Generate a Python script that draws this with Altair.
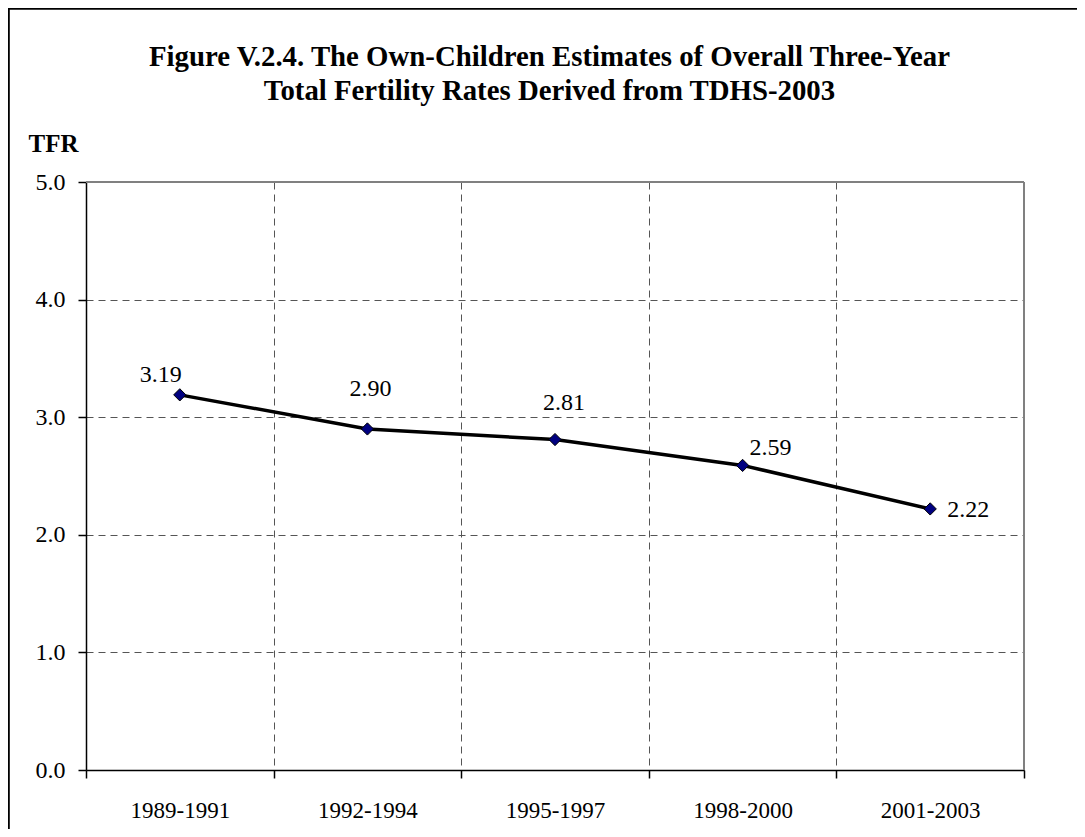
import altair as alt
import pandas as pd

# ---- data ----
periods = ["1989-1991", "1992-1994", "1995-1997", "1998-2000", "2001-2003"]
tfr_values = [3.19, 2.90, 2.81, 2.59, 2.22]
tfr_labels = ["3.19", "2.90", "2.81", "2.59", "2.22"]
y_ticks = [0, 1, 2, 3, 4, 5]
title_lines = [
    "Figure V.2.4. The Own-Children Estimates of Overall Three-Year",
    "Total Fertility Rates Derived from TDHS-2003",
]
y_title = "TFR"

FONT = "Liberation Serif"
GRID = "#555555"
DASH = [7, 5]
W, H = 938, 588

df = pd.DataFrame({"period": periods, "tfr": tfr_values, "label": tfr_labels})

x_enc = alt.X(
    "period:N",
    sort=periods,
    bandPosition=0.5,
    scale=alt.Scale(type="band", paddingInner=0, paddingOuter=0),
    axis=alt.Axis(
        title=None,
        tickBand="extent",
        grid=True,
        gridDash=DASH,
        gridColor=GRID,
        gridWidth=1,
        gridOpacity=1,
        domainColor="black",
        domainWidth=1.5,
        tickColor="black",
        tickWidth=1.5,
        tickSize=8,
        labelFont=FONT,
        labelFontSize=23,
        labelColor="black",
        labelPadding=21,
        labelAngle=0,
    ),
)

y_enc = alt.Y(
    "tfr:Q",
    scale=alt.Scale(domain=[0, 5], nice=False, zero=True),
    axis=alt.Axis(
        values=y_ticks,
        format=".1f",
        title=y_title,
        titleAngle=0,
        titleX=-58,
        titleY=-39,
        titleAlign="left",
        titleBaseline="middle",
        titleFont=FONT,
        titleFontSize=25,
        titleFontWeight="bold",
        titleColor="black",
        grid=True,
        gridDash=DASH,
        gridColor=GRID,
        gridWidth=1,
        gridOpacity=1,
        domainColor="black",
        domainWidth=1.5,
        tickColor="black",
        tickWidth=1.5,
        tickSize=8,
        labelFont=FONT,
        labelFontSize=24,
        labelColor="black",
        labelPadding=13,
    ),
)

base = alt.Chart(df)

line = base.mark_line(color="black", strokeWidth=3.5).encode(x=x_enc, y=y_enc)
points = base.mark_point(
    shape="diamond", filled=True, color="#000080", stroke="black",
    strokeWidth=1, size=150, opacity=1
).encode(x=x_enc, y=y_enc)

# label offsets (dx, dy) as placed in the reference
offsets = {
    "1989-1991": (-19, -20),
    "1992-1994": (3, -40),
    "1995-1997": (9, -37),
    "1998-2000": (28, -17),
    "2001-2003": (38, 1),
}
texts = []
for p in periods:
    dx, dy = offsets[p]
    texts.append(
        base.transform_filter(alt.datum.period == p)
        .mark_text(font=FONT, fontSize=24, color="black", align="center",
                   baseline="middle", dx=dx, dy=dy)
        .encode(x=x_enc, y=y_enc, text="label:N")
    )

one_row = pd.DataFrame({"k": [0]})
title_y = [-116.3, -82]
title_layers = [
    alt.Chart(one_row)
    .mark_text(font=FONT, fontSize=28.8, fontWeight="bold", color="black",
               align="center", baseline="alphabetic")
    .encode(x=alt.value(463.5), y=alt.value(ty), text=alt.value(t))
    for t, ty in zip(title_lines, title_y)
]

# solid grey top and right edges of the plot area (drawn over the dashed grid)
plot_top = alt.Chart(one_row).mark_rule(color="#808080", strokeWidth=2).encode(
    x=alt.value(0), x2=alt.value(W), y=alt.value(0)
)
plot_right = alt.Chart(one_row).mark_rule(color="#808080", strokeWidth=2).encode(
    x=alt.value(W), y=alt.value(0), y2=alt.value(H)
)

top_border = alt.Chart(one_row).mark_rule(color="black", strokeWidth=2.5).encode(
    x=alt.value(-77), x2=alt.value(1200), y=alt.value(-173.5)
)
left_border = alt.Chart(one_row).mark_rule(color="black", strokeWidth=2).encode(
    x=alt.value(-77.2), y=alt.value(-174), y2=alt.value(900)
)

chart = (
    alt.layer(plot_top, plot_right, line, points, *texts, *title_layers,
              top_border, left_border)
    .properties(
        width=W,
        height=H,
        autosize=alt.AutoSizeParams(type="none"),
        padding={"left": 78, "top": 174, "right": 53, "bottom": 59},
    )
    .configure_view(stroke="#808080", strokeWidth=2)
    .configure(background="white")
)

chart.save("out.html", embed_options={"renderer": "svg", "actions": False})
